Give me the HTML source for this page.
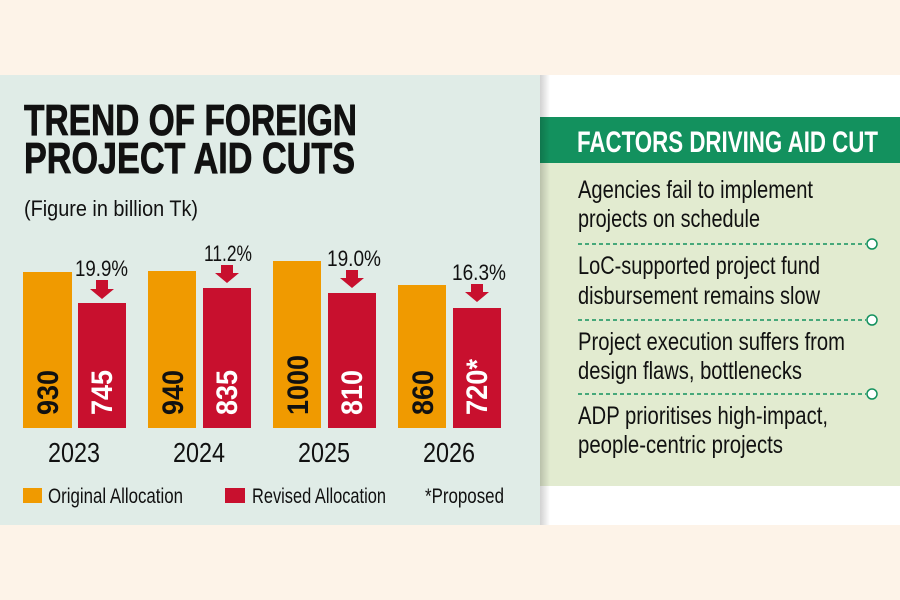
<!DOCTYPE html>
<html><head><meta charset="utf-8"><style>
html,body{margin:0;padding:0;width:900px;height:600px;overflow:hidden;background:#fdf3e8}
svg{display:block}
</style></head><body>
<svg width="900" height="600" viewBox="0 0 900 600" xmlns="http://www.w3.org/2000/svg" font-family="Liberation Sans, sans-serif">
<defs>
<linearGradient id="sh" x1="0" x2="1" y1="0" y2="0">
<stop offset="0" stop-color="#000" stop-opacity="0.18"/>
<stop offset="1" stop-color="#000" stop-opacity="0"/>
</linearGradient>
</defs>
<rect width="900" height="600" fill="#fdf3e8"/>
<rect x="0" y="75" width="545" height="450" fill="#e0ece7"/>
<rect x="540" y="75" width="360" height="450" fill="#ffffff"/>
<rect x="540" y="117" width="360" height="46" fill="#13915e"/>
<rect x="540" y="163" width="360" height="323" fill="#e2ebd0"/>
<rect x="540" y="75" width="10" height="450" fill="url(#sh)"/>

<g font-weight="bold" fill="#111" font-size="44" stroke="#111" stroke-width="0.8">
<text x="24" y="135" textLength="333" lengthAdjust="spacingAndGlyphs">TREND OF FOREIGN</text>
<text x="24" y="173" textLength="331" lengthAdjust="spacingAndGlyphs">PROJECT AID CUTS</text>
</g>
<text x="24" y="216" font-size="22" fill="#111" textLength="174" lengthAdjust="spacingAndGlyphs">(Figure in billion Tk)</text>

<g>
<rect x="23" y="272" width="49" height="156" fill="#f09a00"/>
<rect x="78" y="303" width="48" height="125" fill="#c8102e"/>
<rect x="148" y="271" width="48" height="157" fill="#f09a00"/>
<rect x="203" y="288" width="48" height="140" fill="#c8102e"/>
<rect x="273" y="261" width="48" height="167" fill="#f09a00"/>
<rect x="328" y="293" width="48" height="135" fill="#c8102e"/>
<rect x="398" y="285" width="48" height="143" fill="#f09a00"/>
<rect x="453" y="308" width="48" height="120" fill="#c8102e"/>
</g>
<g font-weight="bold" font-size="30">
<text transform="translate(58,415) rotate(-90)" fill="#111" textLength="45" lengthAdjust="spacingAndGlyphs">930</text>
<text transform="translate(112,415) rotate(-90)" fill="#fff" textLength="45" lengthAdjust="spacingAndGlyphs">745</text>
<text transform="translate(183,415) rotate(-90)" fill="#111" textLength="45" lengthAdjust="spacingAndGlyphs">940</text>
<text transform="translate(237,415) rotate(-90)" fill="#fff" textLength="45" lengthAdjust="spacingAndGlyphs">835</text>
<text transform="translate(308,415) rotate(-90)" fill="#111" textLength="60" lengthAdjust="spacingAndGlyphs">1000</text>
<text transform="translate(362,415) rotate(-90)" fill="#fff" textLength="45" lengthAdjust="spacingAndGlyphs">810</text>
<text transform="translate(433,415) rotate(-90)" fill="#111" textLength="45" lengthAdjust="spacingAndGlyphs">860</text>
<text transform="translate(487,415) rotate(-90)" fill="#fff" textLength="56" lengthAdjust="spacingAndGlyphs">720*</text>
</g>
<g font-size="22" fill="#111">
<text x="75" y="276" textLength="53" lengthAdjust="spacingAndGlyphs">19.9%</text>
<text x="204" y="261" textLength="48" lengthAdjust="spacingAndGlyphs">11.2%</text>
<text x="327" y="266" textLength="54" lengthAdjust="spacingAndGlyphs">19.0%</text>
<text x="452" y="280" textLength="54" lengthAdjust="spacingAndGlyphs">16.3%</text>
</g>
<g fill="#c8102e">
<path d="M96 280h12v9h6l-12 10-12-10h6z"/>
<path d="M221 265h12v8h6l-12 10-12-10h6z"/>
<path d="M346 270h12v8h6l-12 10-12-10h6z"/>
<path d="M471 284h12v8h6l-12 10-12-10h6z"/>
</g>
<g font-size="28" fill="#111" text-anchor="middle">
<text x="74" y="462" textLength="52" lengthAdjust="spacingAndGlyphs">2023</text>
<text x="199" y="462" textLength="52" lengthAdjust="spacingAndGlyphs">2024</text>
<text x="324" y="462" textLength="52" lengthAdjust="spacingAndGlyphs">2025</text>
<text x="449" y="462" textLength="52" lengthAdjust="spacingAndGlyphs">2026</text>
</g>
<rect x="23" y="488" width="19" height="15" fill="#f09a00"/>
<rect x="225" y="488" width="20" height="15" fill="#c8102e"/>
<g font-size="21" fill="#111">
<text x="48" y="503" textLength="135" lengthAdjust="spacingAndGlyphs">Original Allocation</text>
<text x="252" y="503" textLength="134" lengthAdjust="spacingAndGlyphs">Revised Allocation</text>
<text x="425" y="503" textLength="79" lengthAdjust="spacingAndGlyphs">*Proposed</text>
</g>

<text x="577" y="152" font-size="30" font-weight="bold" fill="#fff" textLength="301" lengthAdjust="spacingAndGlyphs">FACTORS DRIVING AID CUT</text>
<g font-size="25" fill="#111">
<text x="578" y="198" textLength="235" lengthAdjust="spacingAndGlyphs">Agencies fail to implement</text>
<text x="578" y="227" textLength="182" lengthAdjust="spacingAndGlyphs">projects on schedule</text>
<text x="578" y="274" textLength="242" lengthAdjust="spacingAndGlyphs">LoC-supported project fund</text>
<text x="578" y="304" textLength="242" lengthAdjust="spacingAndGlyphs">disbursement remains slow</text>
<text x="578" y="350" textLength="267" lengthAdjust="spacingAndGlyphs">Project execution suffers from</text>
<text x="578" y="379" textLength="224" lengthAdjust="spacingAndGlyphs">design flaws, bottlenecks</text>
<text x="578" y="424" textLength="250" lengthAdjust="spacingAndGlyphs">ADP prioritises high-impact,</text>
<text x="578" y="453" textLength="205" lengthAdjust="spacingAndGlyphs">people-centric projects</text>
</g>
<g stroke="#13915e" stroke-width="1.5" fill="#fff">
<line x1="578" y1="244" x2="866" y2="244" stroke-dasharray="4,3"/>
<circle cx="872" cy="244" r="5"/>
<line x1="578" y1="320" x2="866" y2="320" stroke-dasharray="4,3"/>
<circle cx="872" cy="320" r="5"/>
<line x1="578" y1="394" x2="866" y2="394" stroke-dasharray="4,3"/>
<circle cx="872" cy="394" r="5"/>
</g>
</svg>
</body></html>
